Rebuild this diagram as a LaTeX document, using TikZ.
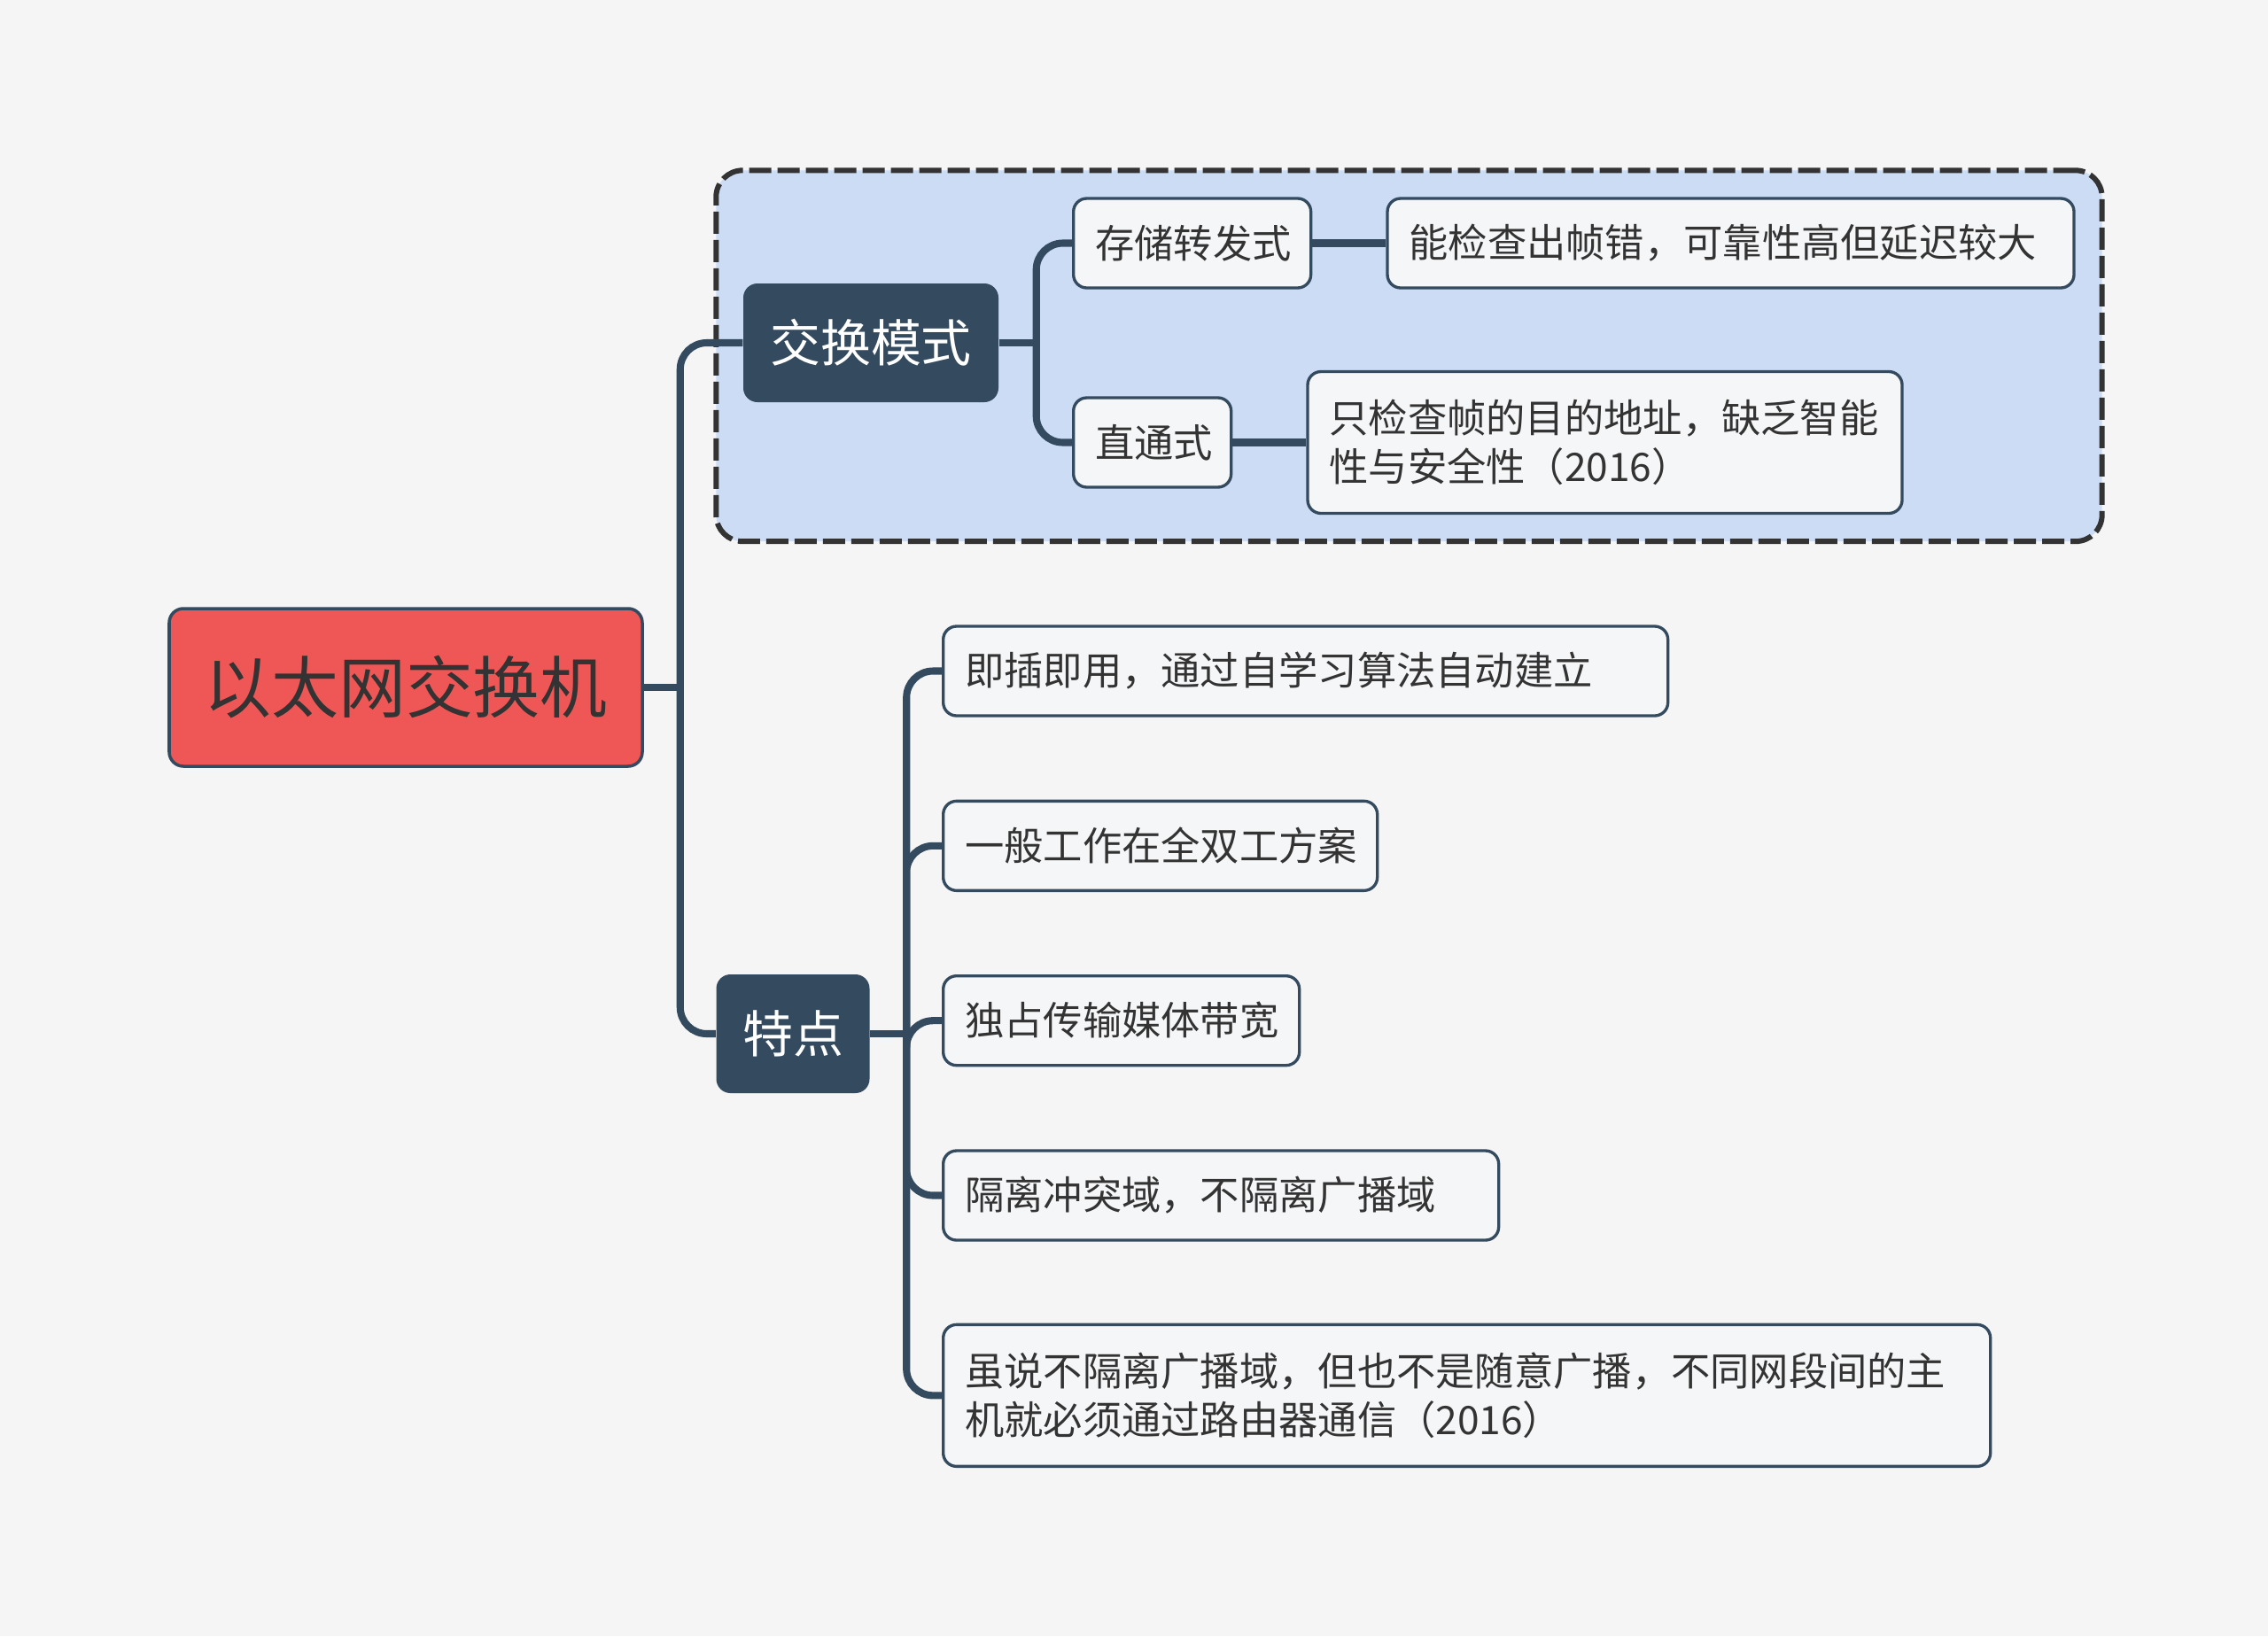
\documentclass[tikz,border=0pt]{standalone}
\usepackage{fontspec}
\setmainfont{Noto Sans CJK SC}
\usepackage{tikz}
\usetikzlibrary{positioning,fit,backgrounds}

\definecolor{bgcol}{HTML}{F5F5F5}
\definecolor{navy}{HTML}{344A5F}
\definecolor{rootred}{HTML}{EF5656}
\definecolor{regionblue}{HTML}{CCDCF5}
\definecolor{leaffill}{HTML}{F5F6F8}
\definecolor{inkgray}{HTML}{333333}

\begin{document}
\begin{tikzpicture}[
		rootblock/.style={draw=navy, line width=1pt, fill=rootred, rounded corners=0.16cm, minimum width=5.34cm, minimum height=1.78cm, text=inkgray, font=\fontsize{21.6}{26}\selectfont},
		topicblock/.style={fill=navy, rounded corners=0.16cm, minimum height=1.34cm, inner xsep=0pt, text=white, font=\fontsize{16.2}{20}\selectfont},
		leafblock/.style={draw=navy, line width=0.95pt, fill=leaffill, rounded corners=0.15cm, minimum height=1.01cm, inner xsep=0.245cm, align=left, text=inkgray, font=\fontsize{12.6}{15.8}\selectfont},
		link/.style={navy, line width=2.3pt, rounded corners=0.3cm},
		region/.style={draw=inkgray, line width=1.7pt, dash pattern=on 0.25cm off 0.07cm, fill=regionblue, rounded corners=0.3cm},
		node distance=0.93cm and 0.83cm
		]

		\useasboundingbox (0,0) rectangle (25.6,-18.47);

		\node[rootblock] (root) at (4.58,-7.76) {以太网交换机};
		\node[topicblock, minimum width=2.88cm] (mode) at (9.83,-3.87) {交换模式};
		\node[topicblock, minimum width=1.73cm] (feat) at (8.95,-11.67) {特点};

		% switching modes
		\node[leafblock, text width=2.19cm, anchor=west] (store) at (12.10,-2.745) {存储转发式};
		\node[leafblock, text width=7.26cm, right=of store] (storenote) {能检查出帧错，可靠性高但延迟较大};
		\node[leafblock, text width=1.29cm, anchor=west] (cut) at (12.10,-4.995) {直通式};
		\node[leafblock, text width=6.22cm, minimum height=1.60cm, right=of cut] (cutnote) {只检查帧的目的地址，缺乏智能\\性与安全性（2016）};

		% features
		\node[leafblock, text width=7.69cm, anchor=west] (f1) at (10.63,-7.575) {即插即用，通过自学习算法自动建立};
		\node[leafblock, text width=4.41cm, below=of f1.south west, anchor=north west] (f2) {一般工作在全双工方案};
		\node[leafblock, text width=3.53cm, below=of f2.south west, anchor=north west] (f3) {独占传输媒体带宽};
		\node[leafblock, text width=5.78cm, below=of f3.south west, anchor=north west] (f4) {隔离冲突域，不隔离广播域};
		\node[leafblock, text width=11.33cm, minimum height=1.60cm, below=0.92cm of f4.south west, anchor=north west] (f5) {虽说不隔离广播域，但也不是随意广播，不同网段间的主\\机就必须通过路由器通信（2016）};

		\coordinate (rootjoint) at ([xshift=0.41cm]root.east);
		\coordinate (modejoint) at ([xshift=0.42cm]mode.east);
		\coordinate (featjoint) at ([xshift=0.41cm]feat.east);

		\draw[link] (root.east) -- (rootjoint);
		\draw[link] (rootjoint) |- (mode.west);
		\draw[link] (rootjoint) |- (feat.west);
		\draw[link] (mode.east) -- (modejoint);
		\foreach \n in {store,cut}
			\draw[link] (modejoint) |- (\n.west);
		\draw[link] (store) -- (storenote);
		\draw[link] (cut) -- (cutnote);
		\draw[link] (feat.east) -- (featjoint);
		\foreach \i in {1,...,5}
			\draw[link] (featjoint) |- (f\i.west);

		\begin{scope}[on background layer]
			\fill[bgcol] (0,0) rectangle (25.6,-18.47);
			\node[region, fit=(mode)(store)(storenote)(cut)(cutnote), inner sep=0.3cm] (modearea) {};
		\end{scope}
	\end{tikzpicture}
\end{document}
